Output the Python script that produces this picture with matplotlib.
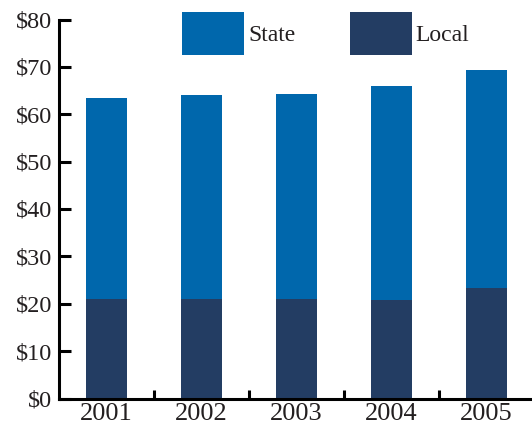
import numpy as np
import matplotlib
matplotlib.use("Agg")
import matplotlib.pyplot as plt

# data (dollars)
years = ["2001", "2002", "2003", "2004", "2005"]
local = [21.0, 20.9, 20.9, 20.8, 23.3]
total = [63.5, 64.0, 64.2, 65.9, 69.4]
state = [t - l for t, l in zip(total, local)]
yticks = [0, 10, 20, 30, 40, 50, 60, 70, 80]

state_color = "#0067ac"
local_color = "#233d63"
text_color = "#231f20"

plt.rcParams["font.family"] = ["Liberation Serif", "DejaVu Serif"]

fig = plt.figure(figsize=(5.32, 4.25), dpi=100)
W, H = 532, 425
ax = fig.add_axes([59 / W, 1 - 398.5 / H, (534 - 59) / W, (398.5 - 19.5) / H])

x = np.arange(len(years))
ax.bar(x, local, width=0.43, color=local_color, label="Local")
ax.bar(x, state, width=0.43, bottom=local, color=state_color, label="State")

ax.set_xlim(-0.5, 4.5)
ax.set_ylim(0, 80)
ax.set_yticks(yticks)
ax.set_yticklabels(["$%d" % v for v in yticks])
ax.set_xticks(x)
ax.set_xticklabels(years)
ax.set_xticks(x[:-1] + 0.5, minor=True)

for s in ["top", "right"]:
    ax.spines[s].set_visible(False)
for s in ["left", "bottom"]:
    ax.spines[s].set_linewidth(2.2)

ax.tick_params(axis="y", direction="in", length=8.5, width=2.2, pad=5,
               labelsize=17.5, labelcolor=text_color)
ax.tick_params(axis="x", which="major", length=0, pad=3, labelsize=19,
               labelcolor=text_color)
ax.tick_params(axis="x", which="minor", direction="in", length=6.5, width=2.2)

handles, labels = ax.get_legend_handles_labels()
leg = ax.legend(handles[::-1], labels[::-1], ncol=2, frameon=False,
                fontsize=17, handlelength=2.63, handleheight=2.4,
                handletextpad=0.17, columnspacing=2.3,
                loc="upper left", bbox_to_anchor=(182 / W, 1 - 12 / H),
                bbox_transform=fig.transFigure, borderpad=0, borderaxespad=0)
for t in leg.get_texts():
    t.set_color(text_color)

fig.savefig("out.png", dpi=100)
